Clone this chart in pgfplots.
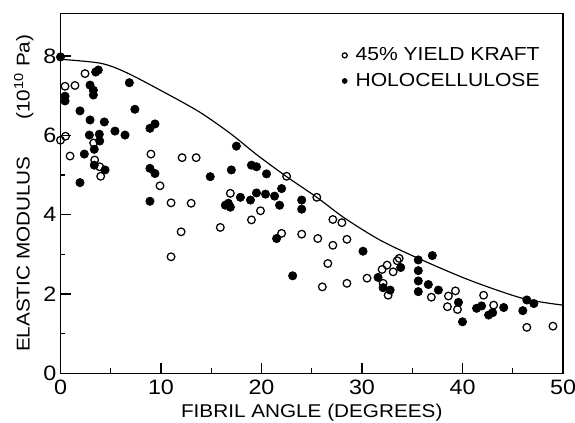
\documentclass[border=0pt]{standalone}
\usepackage{fontspec}
\setmainfont{Liberation Sans}[FakeStretch=1.12]
\usepackage{pgfplots}
\pgfplotsset{compat=1.18}
\usetikzlibrary{calc}

% open circles: 45% yield kraft
\pgfplotstableread{
x y
0 5.88
0.5 5.98
0.45 7.24
1.44 7.26
0.95 5.48
2.44 7.56
3.3 5.81
3.4 5.38
3.9 5.21
4.0 4.97
9.0 5.53
9.9 4.73
11.0 4.30
13.0 4.29
12.1 5.44
13.5 5.44
12.0 3.57
11.0 2.94
15.9 3.68
16.9 4.54
19.9 4.10
19.0 3.87
22.5 4.97
22.0 3.53
24.0 3.51
25.5 4.44
25.6 3.40
27.1 3.88
28.0 3.80
27.1 3.23
28.5 3.38
26.6 2.77
26.05 2.18
28.5 2.27
30.5 2.40
32.0 2.62
32.5 2.73
33.1 2.56
33.5 2.84
33.7 2.90
32.1 2.27
32.6 1.97
36.9 1.92
38.6 1.95
39.3 2.08
38.5 1.68
39.5 1.61
42.1 1.97
43.1 1.72
46.4 1.16
49.0 1.19
}\kraft

% filled circles: holocellulose
\pgfplotstableread{
x y
0 7.98
0.45 6.99
0.45 6.87
1.94 6.62
1.94 4.81
2.37 5.53
2.94 7.27
3.27 7.14
3.27 7.02
2.94 6.39
2.87 6.01
3.36 5.65
3.36 5.25
3.5 7.6
3.76 7.65
3.86 6.03
3.9 5.86
4.36 6.34
4.43 5.13
5.42 6.11
6.42 6.01
6.85 7.33
7.4 6.66
8.9 6.18
9.4 6.29
8.9 5.17
9.4 5.04
8.9 4.34
14.9 4.96
17.0 5.13
17.5 5.73
19.0 5.25
19.5 5.21
20.5 5.03
22.0 4.66
16.4 4.24
16.9 4.19
16.7 4.29
17.9 4.44
18.9 4.37
19.5 4.55
20.4 4.52
21.3 4.47
21.8 4.24
24.0 4.37
24.0 4.14
21.5 3.40
23.1 2.46
30.1 3.08
31.6 2.42
32.1 2.16
32.8 2.10
33.85 2.67
35.6 2.86
35.6 2.59
35.6 2.33
35.6 2.06
36.6 2.24
37.0 2.97
37.6 2.10
39.6 1.79
40.0 1.30
41.4 1.64
41.9 1.70
42.6 1.47
43.0 1.53
44.1 1.66
46.0 1.58
46.4 1.85
47.1 1.76
}\holo

% theoretical curve
\pgfplotstableread{
x y
0 7.92
4 7.82
6.6 7.58
10.6 7.05
13.9 6.58
16.9 6.05
19.5 5.52
22.5 4.96
25.5 4.44
28.3 3.91
31.8 3.36
35.6 2.90
40.7 2.35
46.0 1.89
50 1.72
}\curve

\begin{document}
\begin{tikzpicture}
\begin{axis}[
  name=ax,
  scale only axis,
  width=301.5pt, height=216pt,
  xmin=0, xmax=50, ymin=0, ymax=9.08,
  xtick={0,10,...,50}, ytick={0,2,...,8},
  minor xtick={5,15,...,45}, minor ytick={1,3,5,7},
  tick align=inside,
  xtick pos=bottom, ytick pos=left,
  major tick length=6pt, minor tick length=3pt,
  axis line style={line width=0.9pt},
  every tick/.style={line width=0.8pt, black},
  /pgf/number format/assume math mode=true,
  tick label style={font=\fontsize{12.5}{14}\selectfont},
  xticklabel style={yshift=-0.5pt},
  yticklabel style={xshift=1pt},
  xlabel={FIBRIL ANGLE (DEGREES)},
  ylabel={ELASTIC MODULUS\hspace{22pt}(10\textsuperscript{10} Pa)},
  label style={font=\fontsize{11.1}{12}\selectfont},
  xlabel style={yshift=1pt},
  ylabel style={yshift=-1pt},
  legend style={draw=none, fill=none, at={(0.56,0.915)}, anchor=north west,
    font=\fontsize{11.3}{12}\selectfont, inner sep=0pt, row sep=2pt,
    column sep=3pt},
  legend cell align=left,
  legend image code/.code={\draw[#1, mark size=1.5pt] plot coordinates {(0.1cm,0cm)};},
]
\addplot[only marks, mark=o, mark size=2.3pt, mark options={line width=0.75pt, black, fill=white}] table {\kraft};
\addlegendentry{45\% YIELD KRAFT}
\addplot[only marks, mark=*, mark size=2.5pt, mark options={black, fill=black}] table {\holo};
\addlegendentry{HOLOCELLULOSE}
\addplot[black, line width=0.7pt, smooth, forget plot] table {\curve};
\end{axis}
\pgfresetboundingbox
\useasboundingbox ($(ax.south west)+(-36.3pt,-29.8pt)$) rectangle ($(ax.north east)+(7.2pt,8pt)$);
\end{tikzpicture}
\end{document}
